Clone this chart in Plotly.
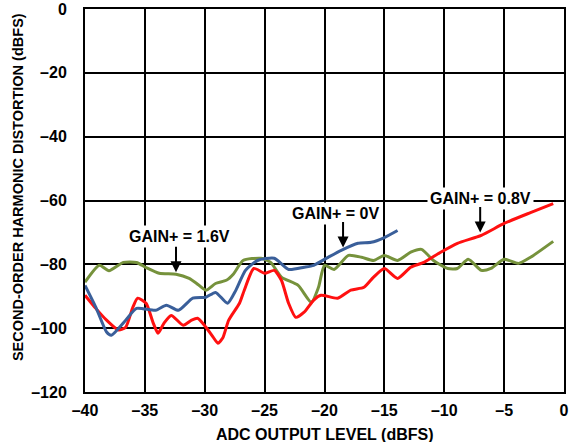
import plotly.graph_objects as go

# Second-order harmonic distortion vs ADC output level, three GAIN+ settings
x_green = [-40, -38.8, -38, -36.8, -35.7, -34.9, -33.8, -32.4, -31.3, -30.7, -29.9, -29.1,
           -28.2, -27.6, -26.8, -25.3, -24.5, -23.6, -22.2, -21.1, -20.5, -20, -19.2, -18,
           -16.9, -15.9, -15, -13.9, -12.8, -11.9, -10.9, -9.7, -8.9, -8.0, -6.9, -6.1,
           -5.0, -3.8, -2.8, -0.9]
y_green = [-85.6, -80.3, -82, -79.4, -79.4, -81, -82.8, -83.1, -84.4, -85.9, -88.1, -86,
           -85, -83, -78.8, -78.1, -79.4, -84, -86.6, -91.9, -87.2, -80.3, -81.6, -77.2,
           -77.8, -78.8, -77.2, -78.8, -76.2, -75.3, -78.8, -81.3, -81.3, -78.4, -81.9, -81.3,
           -78.4, -79.7, -77.8, -72.8]

x_red = [-40, -39.1, -38.2, -37.2, -36.6, -36, -35.6, -34.9, -34.3, -33.9, -33.4, -32.8,
         -31.8, -31.1, -30.6, -29.9, -29.3, -28.9, -28.5, -28, -27.1, -26.7, -25.9, -25.0,
         -24.2, -23.6, -23, -22.4, -21.7, -20.9, -20.3, -18.9, -17.8, -16.7, -15.9, -15,
         -13.9, -12.8, -11.7, -10.3, -8.9, -6.9, -5.0, -2.8, -0.9]
y_red = [-89.7, -93.8, -97.5, -100.6, -99.7, -93.4, -90.6, -92.2, -98.4, -101.6, -98.4, -96,
         -99.1, -97.5, -96.9, -99.7, -102.8, -104.7, -103.1, -97.5, -92.2, -88.1, -81.3, -82.8,
         -81.9, -85, -92.2, -96.6, -95, -91.2, -89.7, -90.6, -88.1, -87.2, -84, -81.3,
         -84.4, -80.9, -79.4, -76.2, -73.4, -70.9, -67.2, -63.8, -61]

x_blue = [-40, -39.1, -38.2, -37.8, -36.6, -35.7, -34.1, -33.2, -32.2, -31, -29.9, -29.1,
          -28.1, -27.4, -26.6, -25.6, -24.2, -23, -21.7, -20.9, -19.7, -18.6, -17.2, -16.1,
          -15, -13.9]
y_blue = [-86.6, -93.4, -101.2, -102.2, -97.5, -93.8, -94.4, -92.8, -94.4, -90.6, -90.3, -88.8,
          -92.2, -88.1, -81.9, -78.8, -78.1, -81.6, -80.9, -80.3, -77.8, -75.6, -73.4, -73.1,
          -71.6, -69.4]

x_ticks = [-40, -35, -30, -25, -20, -15, -10, -5, 0]
y_ticks = [0, -20, -40, -60, -80, -100, -120]

def dash_label(v):
    return "<b>0</b>" if v == 0 else "<b>\u2013" + str(abs(v)) + "</b>"

# label text, label position, arrow tip position
labels = [
    ("GAIN+ = 1.6V", -32.15, -71.3, -32.4, -82.5),
    ("GAIN+ = 0V", -19.05, -64.1, -18.45, -74.7),
    ("GAIN+ = 0.8V", -7.0, -59.4, -7.0, -70.0),
]

FONT = "Liberation Sans, Arial, sans-serif"

fig = go.Figure()
fig.add_trace(go.Scatter(x=x_green, y=y_green, mode="lines",
                         line=dict(color="#76923C", width=3, shape="spline", smoothing=0.6)))
fig.add_trace(go.Scatter(x=x_red, y=y_red, mode="lines",
                         line=dict(color="#FF1010", width=3, shape="spline", smoothing=0.6)))
fig.add_trace(go.Scatter(x=x_blue, y=y_blue, mode="lines",
                         line=dict(color="#3A5F9A", width=3, shape="spline", smoothing=0.6)))

for text, tx, ty, ax_, ay_ in labels:
    fig.add_annotation(x=tx, y=ty, text="<b>%s</b>" % text, showarrow=False,
                       bgcolor="white", font=dict(family=FONT, size=16, color="black"),
                       borderpad=2)
    fig.add_annotation(x=ax_, y=ay_, text="", showarrow=True, ax=0, ay=-27,
                       arrowhead=2, arrowsize=1.1, arrowwidth=2, arrowcolor="black")

# axis titles placed as paper annotations
fig.add_annotation(x=0.5, y=-0.11, xref="paper", yref="paper", xanchor="center",
                   yanchor="middle", showarrow=False, text="<b>ADC OUTPUT LEVEL (dBFS)</b>",
                   font=dict(family=FONT, size=16, color="black"))
fig.add_annotation(x=0, y=0.535, xref="paper", yref="paper", xanchor="center",
                   yanchor="middle", xshift=-67, textangle=-90, showarrow=False,
                   text="<b>SECOND-ORDER HARMONIC DISTORTION (dBFS)</b>",
                   font=dict(family=FONT, size=14.5, color="black"))

fig.update_xaxes(range=[-40, 0], tickvals=x_ticks, ticktext=[dash_label(v) for v in x_ticks],
                 showgrid=True, gridcolor="black", gridwidth=1.5, zeroline=False,
                 showline=True, linecolor="black", linewidth=2, mirror=True, ticks="",
                 automargin=False, ticklabelstandoff=3,
                 tickfont=dict(family=FONT, size=16, color="black"))
fig.update_yaxes(range=[-120, 0], tickvals=y_ticks, ticktext=[dash_label(v) for v in y_ticks],
                 showgrid=True, gridcolor="black", gridwidth=1.5, zeroline=False,
                 showline=True, linecolor="black", linewidth=2, mirror=True, ticks="",
                 automargin=False, ticklabelstandoff=13,
                 tickfont=dict(family=FONT, size=16, color="black"))

fig.update_layout(width=584, height=442, showlegend=False,
                  margin=dict(l=85, r=20, t=9, b=50),
                  plot_bgcolor="white", paper_bgcolor="white",
                  font=dict(family=FONT, color="black"))

fig.write_html("out.html")
